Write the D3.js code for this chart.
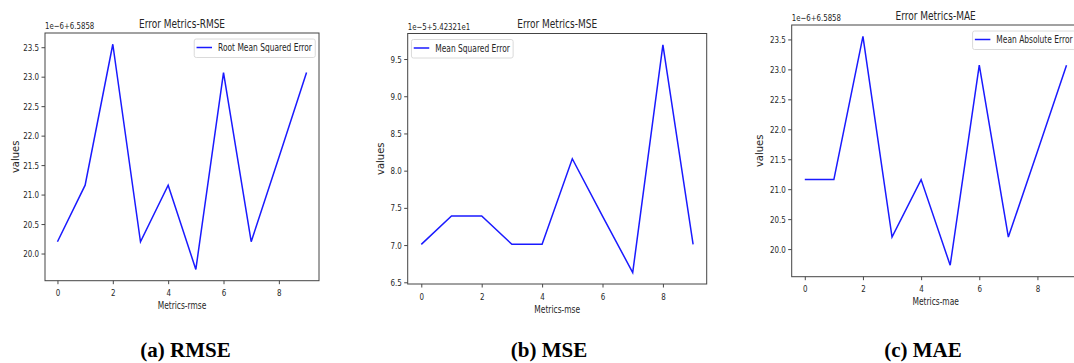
<!DOCTYPE html>
<html>
<head>
<meta charset="utf-8">
<script src="https://cdn.jsdelivr.net/npm/d3@7"></script>
<style>
  html, body { margin: 0; padding: 0; background: #fff; }
  svg { display: block; }
</style>
</head>
<body>
<svg id="chart" width="1074" height="363"></svg>
<script>
// ---- data ----
const xIndex = [0, 1, 2, 3, 4, 5, 6, 7, 8, 9];
const rmseValues = [20.20, 21.16, 23.55, 20.20, 21.16, 19.73, 23.07, 20.20, 21.63, 23.07];
const mseValues  = [7.01, 7.39, 7.39, 7.01, 7.01, 8.16, 7.39, 6.63, 9.69, 7.01];
const maeValues  = [21.16, 21.16, 23.55, 20.20, 21.16, 19.73, 23.07, 20.20, 21.63, 23.07];
const xTickValues = [0, 2, 4, 6, 8];
const rmseTicks = [20.0, 20.5, 21.0, 21.5, 22.0, 22.5, 23.0, 23.5];
const mseTicks  = [6.5, 7.0, 7.5, 8.0, 8.5, 9.0, 9.5];
const maeTicks  = [20.0, 20.5, 21.0, 21.5, 22.0, 22.5, 23.0, 23.5];
const titles = ["Error Metrics-RMSE", "Error Metrics-MSE", "Error Metrics-MAE"];
const offsets = ["1e\u22126+6.5858", "1e\u22125+5.42321e1", "1e\u22126+6.5858"];
const xLabels = ["Metrics-rmse", "Metrics-mse", "Metrics-mae"];
const legendLabels = ["Root Mean Squared Error", "Mean Squared Error", "Mean Absolute Error"];
const captions = ["(a) RMSE", "(b) MSE", "(c) MAE"];

// ---- layout ----
const SX = 0.75; // horizontal squeeze of the original image
const panels = [
  { vals: rmseValues, ticks: rmseTicks, left: 45,    right: 319,    top: 33,   bottom: 280.7, legend: "right", titleY: 27.5, offY: 29,   ylabX: 18.6, capX: 185.5 },
  { vals: mseValues,  ticks: mseTicks,  left: 407.7, right: 706.7,  top: 33.5, bottom: 284,   legend: "left",  titleY: 27.5, offY: 30,   ylabX: 384,  capX: 549 },
  { vals: maeValues,  ticks: maeTicks,  left: 791.7, right: 1079.6, top: 25,   bottom: 276.7, legend: "right", titleY: 19.5, offY: 20.5, ylabX: 763,  capX: 923 }
];

const svg = d3.select("#chart");
svg.append("rect").attr("width", 1074).attr("height", 363).attr("fill", "#fff");

function sText(g, x, y, str, size, anchor, opts = {}) {
  return g.append("text")
    .attr("transform", `translate(${x},${y}) scale(${opts.sx ?? SX},1)`)
    .attr("text-anchor", anchor)
    .attr("font-family", opts.family || "DejaVu Sans, sans-serif")
    .attr("font-size", size)
    .attr("font-weight", opts.weight || "normal")
    .attr("fill", opts.fill || "#262626")
    .text(str);
}

panels.forEach((p, i) => {
  const g = svg.append("g");
  const xs = d3.scaleLinear().domain([-0.45, 9.45]).range([p.left, p.right]);
  const mn = d3.min(p.vals), mx = d3.max(p.vals), pad = (mx - mn) * 0.05;
  const ys = d3.scaleLinear().domain([mn - pad, mx + pad]).range([p.bottom, p.top]);

  // line
  const line = d3.line().x((d, k) => xs(xIndex[k])).y(d => ys(d));
  g.append("path").datum(p.vals)
    .attr("d", line).attr("fill", "none")
    .attr("stroke", "#1a1aff").attr("stroke-width", 1.5)
    .attr("stroke-linejoin", "miter");

  // axes
  const ax = g.append("g").attr("transform", `translate(0,${p.bottom})`)
    .call(d3.axisBottom(xs).tickValues(xTickValues).tickFormat(d3.format("d")).tickSize(3.5).tickPadding(5.3));
  const ay = g.append("g").attr("transform", `translate(${p.left},0)`)
    .call(d3.axisLeft(ys).tickValues(p.ticks).tickFormat(d3.format(".1f")).tickSize(3.5).tickPadding(2.5));
  [ax, ay].forEach(a => {
    a.select(".domain").remove();
    a.selectAll(".tick line").attr("stroke", "#333").attr("stroke-width", 0.9);
    a.selectAll(".tick text")
      .attr("font-family", "DejaVu Sans, sans-serif")
      .attr("font-size", 9.5).attr("fill", "#262626");
  });
  ay.selectAll(".tick text").attr("x", -6 / SX).attr("transform", `scale(${SX},1)`);
  ax.selectAll(".tick text").attr("transform", `scale(${SX},1)`);

  // frame
  g.append("rect")
    .attr("x", p.left).attr("y", p.top)
    .attr("width", p.right - p.left).attr("height", p.bottom - p.top)
    .attr("fill", "none").attr("stroke", "#444").attr("stroke-width", 1);

  // title, offset text, labels
  sText(g, (p.left + p.right) / 2, p.titleY, titles[i], 12, "middle");
  sText(g, p.left, p.offY, offsets[i], 9.3, "start");
  sText(g, (p.left + p.right) / 2, p.bottom + 28.5, xLabels[i], 10, "middle");
  g.append("text")
    .attr("transform", `translate(${p.ylabX},${(p.top + p.bottom) / 2}) rotate(-90)`)
    .attr("text-anchor", "middle")
    .attr("font-family", "DejaVu Sans, sans-serif")
    .attr("font-size", 10).attr("fill", "#262626")
    .text("values");

  // legend
  const lg = g.append("g");
  const boxTop = p.top + 6;
  const boxH = 18.5;
  const tmp = sText(lg, 0, 0, legendLabels[i], 10, "start");
  const tw = tmp.node().getComputedTextLength() * SX;
  tmp.remove();
  const boxW = 2.3 + 15.5 + 6 + tw + 3.3;
  const boxX = p.legend === "right" ? p.right - 3.75 - boxW : p.left + 3.75;
  lg.append("rect")
    .attr("x", boxX).attr("y", boxTop).attr("width", boxW).attr("height", boxH)
    .attr("rx", 2).attr("fill", "#fff").attr("fill-opacity", 0.8)
    .attr("stroke", "#d6d6d6").attr("stroke-width", 0.9);
  const ly = boxTop + 8.5;
  lg.append("line")
    .attr("x1", boxX + 2.3).attr("x2", boxX + 17.8)
    .attr("y1", ly).attr("y2", ly)
    .attr("stroke", "#1a1aff").attr("stroke-width", 1.5);
  sText(lg, boxX + 23.8, ly + 3.6, legendLabels[i], 10, "start");

  // caption
  sText(svg, p.capX, 356.5, captions[i], 21, "middle",
    { sx: 1, family: "Liberation Serif, Times New Roman, serif", weight: "bold", fill: "#000" });
});
</script>
</body>
</html>
